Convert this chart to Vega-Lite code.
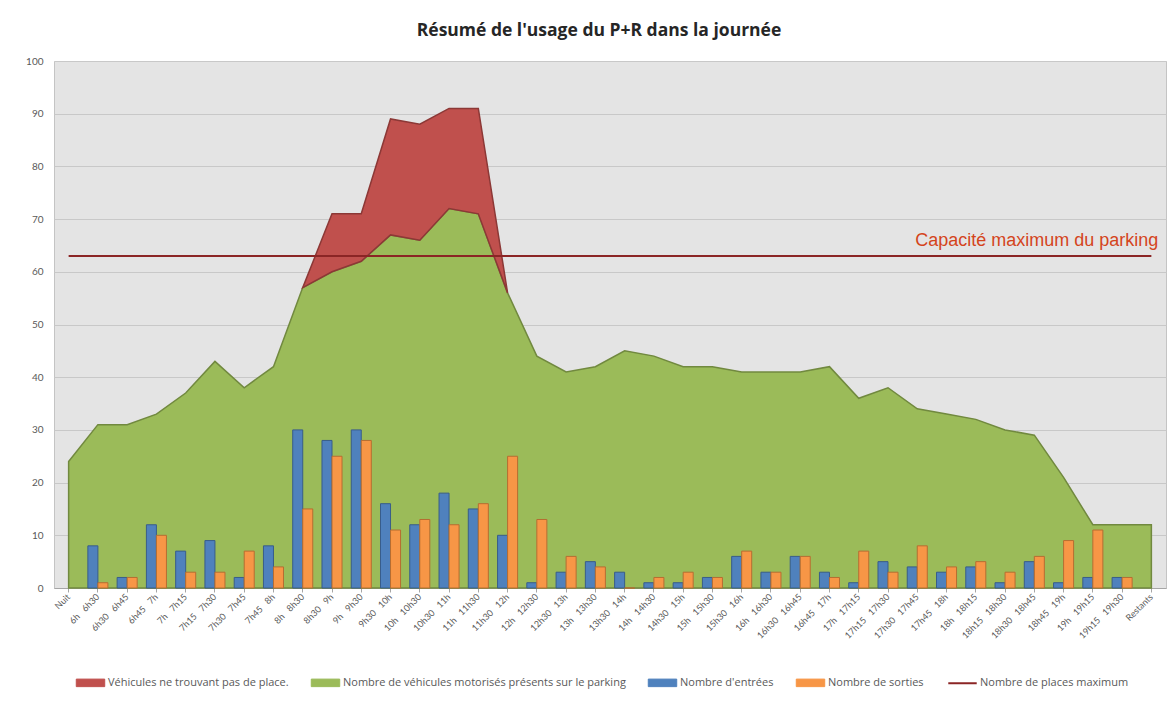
{
  "$schema": "https://vega.github.io/schema/vega-lite/v6.json",
  "width": 1112,
  "height": 527,
  "autosize": {"type": "none"},
  "padding": {"left": 54, "top": 61, "right": 9, "bottom": 117},
  "background": "white",
  "title": {"text": "Résumé de l'usage du P+R dans la journée", "font": "Open Sans", "fontSize": 17.5, "fontWeight": "bold", "color": "#262626", "offset": 17, "dx": -11},
  "config": {
    "view": {"fill": "#e4e4e4", "stroke": "#c4c4c4"},
    "axisY": {"labelFont": "Lato", "labelFontSize": 10, "labelColor": "#595959", "gridColor": "#c8c8c8", "domain": false, "ticks": false, "labelPadding": 11},
    "axisX": {"labelFont": "Lato", "labelFontSize": 9, "labelColor": "#595959", "labelAngle": -45, "labelAlign": "right", "labelBaseline": "middle", "grid": false, "domainColor": "#a6a6a6", "tickColor": "#a6a6a6", "tickSize": 4, "labelPadding": 3, "labelLimit": 0}
  },
  "datasets": {
    "verts": [
      {"cat": "Nuit", "serie": "Nombre de véhicules motorisés présents sur le parking", "value": 24},
      {"cat": "6h\u00a0\u00a0\u00a06h30", "serie": "Nombre de véhicules motorisés présents sur le parking", "value": 31},
      {"cat": "6h30\u00a0\u00a0\u00a06h45", "serie": "Nombre de véhicules motorisés présents sur le parking", "value": 31},
      {"cat": "6h45\u00a0\u00a0\u00a07h", "serie": "Nombre de véhicules motorisés présents sur le parking", "value": 33},
      {"cat": "7h\u00a0\u00a0\u00a07h15", "serie": "Nombre de véhicules motorisés présents sur le parking", "value": 37},
      {"cat": "7h15\u00a0\u00a0\u00a07h30", "serie": "Nombre de véhicules motorisés présents sur le parking", "value": 43},
      {"cat": "7h30\u00a0\u00a0\u00a07h45", "serie": "Nombre de véhicules motorisés présents sur le parking", "value": 38},
      {"cat": "7h45\u00a0\u00a0\u00a08h", "serie": "Nombre de véhicules motorisés présents sur le parking", "value": 42},
      {"cat": "8h\u00a0\u00a0\u00a08h30", "serie": "Nombre de véhicules motorisés présents sur le parking", "value": 57},
      {"cat": "8h30\u00a0\u00a0\u00a09h", "serie": "Nombre de véhicules motorisés présents sur le parking", "value": 60},
      {"cat": "9h\u00a0\u00a0\u00a09h30", "serie": "Nombre de véhicules motorisés présents sur le parking", "value": 62},
      {"cat": "9h30\u00a0\u00a0\u00a010h", "serie": "Nombre de véhicules motorisés présents sur le parking", "value": 67},
      {"cat": "10h\u00a0\u00a0\u00a010h30", "serie": "Nombre de véhicules motorisés présents sur le parking", "value": 66},
      {"cat": "10h30\u00a0\u00a0\u00a011h", "serie": "Nombre de véhicules motorisés présents sur le parking", "value": 72},
      {"cat": "11h\u00a0\u00a0\u00a011h30", "serie": "Nombre de véhicules motorisés présents sur le parking", "value": 71},
      {"cat": "11h30\u00a0\u00a0\u00a012h", "serie": "Nombre de véhicules motorisés présents sur le parking", "value": 56},
      {"cat": "12h\u00a0\u00a0\u00a012h30", "serie": "Nombre de véhicules motorisés présents sur le parking", "value": 44},
      {"cat": "12h30\u00a0\u00a0\u00a013h", "serie": "Nombre de véhicules motorisés présents sur le parking", "value": 41},
      {"cat": "13h\u00a0\u00a0\u00a013h30", "serie": "Nombre de véhicules motorisés présents sur le parking", "value": 42},
      {"cat": "13h30\u00a0\u00a0\u00a014h", "serie": "Nombre de véhicules motorisés présents sur le parking", "value": 45},
      {"cat": "14h\u00a0\u00a0\u00a014h30", "serie": "Nombre de véhicules motorisés présents sur le parking", "value": 44},
      {"cat": "14h30\u00a0\u00a0\u00a015h", "serie": "Nombre de véhicules motorisés présents sur le parking", "value": 42},
      {"cat": "15h\u00a0\u00a0\u00a015h30", "serie": "Nombre de véhicules motorisés présents sur le parking", "value": 42},
      {"cat": "15h30\u00a0\u00a0\u00a016h", "serie": "Nombre de véhicules motorisés présents sur le parking", "value": 41},
      {"cat": "16h\u00a0\u00a0\u00a016h30", "serie": "Nombre de véhicules motorisés présents sur le parking", "value": 41},
      {"cat": "16h30\u00a0\u00a0\u00a016h45", "serie": "Nombre de véhicules motorisés présents sur le parking", "value": 41},
      {"cat": "16h45\u00a0\u00a0\u00a017h", "serie": "Nombre de véhicules motorisés présents sur le parking", "value": 42},
      {"cat": "17h\u00a0\u00a0\u00a017h15", "serie": "Nombre de véhicules motorisés présents sur le parking", "value": 36},
      {"cat": "17h15\u00a0\u00a0\u00a017h30", "serie": "Nombre de véhicules motorisés présents sur le parking", "value": 38},
      {"cat": "17h30\u00a0\u00a0\u00a017h45", "serie": "Nombre de véhicules motorisés présents sur le parking", "value": 34},
      {"cat": "17h45\u00a0\u00a0\u00a018h", "serie": "Nombre de véhicules motorisés présents sur le parking", "value": 33},
      {"cat": "18h\u00a0\u00a0\u00a018h15", "serie": "Nombre de véhicules motorisés présents sur le parking", "value": 32},
      {"cat": "18h15\u00a0\u00a0\u00a018h30", "serie": "Nombre de véhicules motorisés présents sur le parking", "value": 30},
      {"cat": "18h30\u00a0\u00a0\u00a018h45", "serie": "Nombre de véhicules motorisés présents sur le parking", "value": 29},
      {"cat": "18h45\u00a0\u00a0\u00a019h", "serie": "Nombre de véhicules motorisés présents sur le parking", "value": 21},
      {"cat": "19h\u00a0\u00a0\u00a019h15", "serie": "Nombre de véhicules motorisés présents sur le parking", "value": 12},
      {"cat": "19h15\u00a0\u00a0\u00a019h30", "serie": "Nombre de véhicules motorisés présents sur le parking", "value": 12},
      {"cat": "Restants", "serie": "Nombre de véhicules motorisés présents sur le parking", "value": 12}
    ],
    "rouges": [
      {"cat": "8h\u00a0\u00a0\u00a08h30", "serie": "Véhicules ne trouvant pas de place.", "refus": 0},
      {"cat": "8h30\u00a0\u00a0\u00a09h", "serie": "Véhicules ne trouvant pas de place.", "refus": 11},
      {"cat": "9h\u00a0\u00a0\u00a09h30", "serie": "Véhicules ne trouvant pas de place.", "refus": 9},
      {"cat": "9h30\u00a0\u00a0\u00a010h", "serie": "Véhicules ne trouvant pas de place.", "refus": 22},
      {"cat": "10h\u00a0\u00a0\u00a010h30", "serie": "Véhicules ne trouvant pas de place.", "refus": 22},
      {"cat": "10h30\u00a0\u00a0\u00a011h", "serie": "Véhicules ne trouvant pas de place.", "refus": 19},
      {"cat": "11h\u00a0\u00a0\u00a011h30", "serie": "Véhicules ne trouvant pas de place.", "refus": 20},
      {"cat": "11h30\u00a0\u00a0\u00a012h", "serie": "Véhicules ne trouvant pas de place.", "refus": 0}
    ],
    "barres": [
      {"cat": "6h\u00a0\u00a0\u00a06h30", "serie": "Nombre d'entrées", "value": 8}, {"cat": "6h\u00a0\u00a0\u00a06h30", "serie": "Nombre de sorties", "value": 1},
      {"cat": "6h30\u00a0\u00a0\u00a06h45", "serie": "Nombre d'entrées", "value": 2}, {"cat": "6h30\u00a0\u00a0\u00a06h45", "serie": "Nombre de sorties", "value": 2},
      {"cat": "6h45\u00a0\u00a0\u00a07h", "serie": "Nombre d'entrées", "value": 12}, {"cat": "6h45\u00a0\u00a0\u00a07h", "serie": "Nombre de sorties", "value": 10},
      {"cat": "7h\u00a0\u00a0\u00a07h15", "serie": "Nombre d'entrées", "value": 7}, {"cat": "7h\u00a0\u00a0\u00a07h15", "serie": "Nombre de sorties", "value": 3},
      {"cat": "7h15\u00a0\u00a0\u00a07h30", "serie": "Nombre d'entrées", "value": 9}, {"cat": "7h15\u00a0\u00a0\u00a07h30", "serie": "Nombre de sorties", "value": 3},
      {"cat": "7h30\u00a0\u00a0\u00a07h45", "serie": "Nombre d'entrées", "value": 2}, {"cat": "7h30\u00a0\u00a0\u00a07h45", "serie": "Nombre de sorties", "value": 7},
      {"cat": "7h45\u00a0\u00a0\u00a08h", "serie": "Nombre d'entrées", "value": 8}, {"cat": "7h45\u00a0\u00a0\u00a08h", "serie": "Nombre de sorties", "value": 4},
      {"cat": "8h\u00a0\u00a0\u00a08h30", "serie": "Nombre d'entrées", "value": 30}, {"cat": "8h\u00a0\u00a0\u00a08h30", "serie": "Nombre de sorties", "value": 15},
      {"cat": "8h30\u00a0\u00a0\u00a09h", "serie": "Nombre d'entrées", "value": 28}, {"cat": "8h30\u00a0\u00a0\u00a09h", "serie": "Nombre de sorties", "value": 25},
      {"cat": "9h\u00a0\u00a0\u00a09h30", "serie": "Nombre d'entrées", "value": 30}, {"cat": "9h\u00a0\u00a0\u00a09h30", "serie": "Nombre de sorties", "value": 28},
      {"cat": "9h30\u00a0\u00a0\u00a010h", "serie": "Nombre d'entrées", "value": 16}, {"cat": "9h30\u00a0\u00a0\u00a010h", "serie": "Nombre de sorties", "value": 11},
      {"cat": "10h\u00a0\u00a0\u00a010h30", "serie": "Nombre d'entrées", "value": 12}, {"cat": "10h\u00a0\u00a0\u00a010h30", "serie": "Nombre de sorties", "value": 13},
      {"cat": "10h30\u00a0\u00a0\u00a011h", "serie": "Nombre d'entrées", "value": 18}, {"cat": "10h30\u00a0\u00a0\u00a011h", "serie": "Nombre de sorties", "value": 12},
      {"cat": "11h\u00a0\u00a0\u00a011h30", "serie": "Nombre d'entrées", "value": 15}, {"cat": "11h\u00a0\u00a0\u00a011h30", "serie": "Nombre de sorties", "value": 16},
      {"cat": "11h30\u00a0\u00a0\u00a012h", "serie": "Nombre d'entrées", "value": 10}, {"cat": "11h30\u00a0\u00a0\u00a012h", "serie": "Nombre de sorties", "value": 25},
      {"cat": "12h\u00a0\u00a0\u00a012h30", "serie": "Nombre d'entrées", "value": 1}, {"cat": "12h\u00a0\u00a0\u00a012h30", "serie": "Nombre de sorties", "value": 13},
      {"cat": "12h30\u00a0\u00a0\u00a013h", "serie": "Nombre d'entrées", "value": 3}, {"cat": "12h30\u00a0\u00a0\u00a013h", "serie": "Nombre de sorties", "value": 6},
      {"cat": "13h\u00a0\u00a0\u00a013h30", "serie": "Nombre d'entrées", "value": 5}, {"cat": "13h\u00a0\u00a0\u00a013h30", "serie": "Nombre de sorties", "value": 4},
      {"cat": "13h30\u00a0\u00a0\u00a014h", "serie": "Nombre d'entrées", "value": 3}, {"cat": "13h30\u00a0\u00a0\u00a014h", "serie": "Nombre de sorties", "value": 0},
      {"cat": "14h\u00a0\u00a0\u00a014h30", "serie": "Nombre d'entrées", "value": 1}, {"cat": "14h\u00a0\u00a0\u00a014h30", "serie": "Nombre de sorties", "value": 2},
      {"cat": "14h30\u00a0\u00a0\u00a015h", "serie": "Nombre d'entrées", "value": 1}, {"cat": "14h30\u00a0\u00a0\u00a015h", "serie": "Nombre de sorties", "value": 3},
      {"cat": "15h\u00a0\u00a0\u00a015h30", "serie": "Nombre d'entrées", "value": 2}, {"cat": "15h\u00a0\u00a0\u00a015h30", "serie": "Nombre de sorties", "value": 2},
      {"cat": "15h30\u00a0\u00a0\u00a016h", "serie": "Nombre d'entrées", "value": 6}, {"cat": "15h30\u00a0\u00a0\u00a016h", "serie": "Nombre de sorties", "value": 7},
      {"cat": "16h\u00a0\u00a0\u00a016h30", "serie": "Nombre d'entrées", "value": 3}, {"cat": "16h\u00a0\u00a0\u00a016h30", "serie": "Nombre de sorties", "value": 3},
      {"cat": "16h30\u00a0\u00a0\u00a016h45", "serie": "Nombre d'entrées", "value": 6}, {"cat": "16h30\u00a0\u00a0\u00a016h45", "serie": "Nombre de sorties", "value": 6},
      {"cat": "16h45\u00a0\u00a0\u00a017h", "serie": "Nombre d'entrées", "value": 3}, {"cat": "16h45\u00a0\u00a0\u00a017h", "serie": "Nombre de sorties", "value": 2},
      {"cat": "17h\u00a0\u00a0\u00a017h15", "serie": "Nombre d'entrées", "value": 1}, {"cat": "17h\u00a0\u00a0\u00a017h15", "serie": "Nombre de sorties", "value": 7},
      {"cat": "17h15\u00a0\u00a0\u00a017h30", "serie": "Nombre d'entrées", "value": 5}, {"cat": "17h15\u00a0\u00a0\u00a017h30", "serie": "Nombre de sorties", "value": 3},
      {"cat": "17h30\u00a0\u00a0\u00a017h45", "serie": "Nombre d'entrées", "value": 4}, {"cat": "17h30\u00a0\u00a0\u00a017h45", "serie": "Nombre de sorties", "value": 8},
      {"cat": "17h45\u00a0\u00a0\u00a018h", "serie": "Nombre d'entrées", "value": 3}, {"cat": "17h45\u00a0\u00a0\u00a018h", "serie": "Nombre de sorties", "value": 4},
      {"cat": "18h\u00a0\u00a0\u00a018h15", "serie": "Nombre d'entrées", "value": 4}, {"cat": "18h\u00a0\u00a0\u00a018h15", "serie": "Nombre de sorties", "value": 5},
      {"cat": "18h15\u00a0\u00a0\u00a018h30", "serie": "Nombre d'entrées", "value": 1}, {"cat": "18h15\u00a0\u00a0\u00a018h30", "serie": "Nombre de sorties", "value": 3},
      {"cat": "18h30\u00a0\u00a0\u00a018h45", "serie": "Nombre d'entrées", "value": 5}, {"cat": "18h30\u00a0\u00a0\u00a018h45", "serie": "Nombre de sorties", "value": 6},
      {"cat": "18h45\u00a0\u00a0\u00a019h", "serie": "Nombre d'entrées", "value": 1}, {"cat": "18h45\u00a0\u00a0\u00a019h", "serie": "Nombre de sorties", "value": 9},
      {"cat": "19h\u00a0\u00a0\u00a019h15", "serie": "Nombre d'entrées", "value": 2}, {"cat": "19h\u00a0\u00a0\u00a019h15", "serie": "Nombre de sorties", "value": 11},
      {"cat": "19h15\u00a0\u00a0\u00a019h30", "serie": "Nombre d'entrées", "value": 2}, {"cat": "19h15\u00a0\u00a0\u00a019h30", "serie": "Nombre de sorties", "value": 2}
    ],
    "capacite": [
      {"cat": "Nuit", "serie": "Nombre de places maximum", "max": 63},
      {"cat": "Restants", "serie": "Nombre de places maximum", "max": 63}
    ],
    "note": [
      {"cat": "Restants", "max": 63, "texte": "Capacité maximum du parking"}
    ]
  },
  "encoding": {
    "x": {
      "field": "cat", "type": "nominal", "title": null,
      "scale": {"paddingInner": 0, "paddingOuter": 0, "domain": ["Nuit", "6h\u00a0\u00a0\u00a06h30", "6h30\u00a0\u00a0\u00a06h45", "6h45\u00a0\u00a0\u00a07h", "7h\u00a0\u00a0\u00a07h15", "7h15\u00a0\u00a0\u00a07h30", "7h30\u00a0\u00a0\u00a07h45", "7h45\u00a0\u00a0\u00a08h", "8h\u00a0\u00a0\u00a08h30", "8h30\u00a0\u00a0\u00a09h", "9h\u00a0\u00a0\u00a09h30", "9h30\u00a0\u00a0\u00a010h", "10h\u00a0\u00a0\u00a010h30", "10h30\u00a0\u00a0\u00a011h", "11h\u00a0\u00a0\u00a011h30", "11h30\u00a0\u00a0\u00a012h", "12h\u00a0\u00a0\u00a012h30", "12h30\u00a0\u00a0\u00a013h", "13h\u00a0\u00a0\u00a013h30", "13h30\u00a0\u00a0\u00a014h", "14h\u00a0\u00a0\u00a014h30", "14h30\u00a0\u00a0\u00a015h", "15h\u00a0\u00a0\u00a015h30", "15h30\u00a0\u00a0\u00a016h", "16h\u00a0\u00a0\u00a016h30", "16h30\u00a0\u00a0\u00a016h45", "16h45\u00a0\u00a0\u00a017h", "17h\u00a0\u00a0\u00a017h15", "17h15\u00a0\u00a0\u00a017h30", "17h30\u00a0\u00a0\u00a017h45", "17h45\u00a0\u00a0\u00a018h", "18h\u00a0\u00a0\u00a018h15", "18h15\u00a0\u00a0\u00a018h30", "18h30\u00a0\u00a0\u00a018h45", "18h45\u00a0\u00a0\u00a019h", "19h\u00a0\u00a0\u00a019h15", "19h15\u00a0\u00a0\u00a019h30", "Restants"]}
    }
  },
  "layer": [
    {
      "data": {"name": "verts"},
      "mark": {"type": "area", "strokeWidth": 1.5, "stroke": "#71893f", "opacity": 1},
      "encoding": {
        "y": {"field": "value", "type": "quantitative", "title": null, "scale": {"domain": [0, 100]}, "axis": {"values": [0, 10, 20, 30, 40, 50, 60, 70, 80, 90, 100]}},
        "color": {
          "field": "serie", "type": "nominal",
          "scale": {"domain": ["Véhicules ne trouvant pas de place.", "Nombre de véhicules motorisés présents sur le parking", "Nombre d'entrées", "Nombre de sorties", "Nombre de places maximum"], "range": ["#c0504d", "#9bbb59", "#4f81bd", "#f79646", "#8b2525"]},
          "legend": {
            "title": null, "orient": "none", "direction": "horizontal", "legendX": 31, "legendY": 616,
            "labelFont": "Open Sans", "labelFontSize": 11, "labelColor": "#595959", "labelLimit": 0, "symbolSize": 280, "labelOffset": 12, "columnPadding": 20,
            "symbolType": {"expr": "datum.value === 'Nombre de places maximum' ? 'M-1.7,0H1.7' : 'M-1.7,-0.45H1.7V0.45H-1.7Z'"},
            "symbolStrokeColor": {"expr": "datum.value === 'Nombre de places maximum' ? '#8b2525' : (datum.value === 'Nombre d\\'entrées' ? '#385d8a' : (datum.value === 'Nombre de sorties' ? '#b66d31' : (datum.value === 'Véhicules ne trouvant pas de place.' ? '#8c3836' : '#71893f')))"},
            "symbolStrokeWidth": {"expr": "datum.value === 'Nombre de places maximum' ? 2 : 1"},
            "symbolOpacity": 1
          }
        }
      }
    },
    {
      "data": {"name": "rouges"},
      "transform": [
        {"lookup": "cat", "from": {"data": {"name": "verts"}, "key": "cat", "fields": ["value"]}},
        {"calculate": "datum.value + datum.refus", "as": "total"}
      ],
      "mark": {"type": "area", "strokeWidth": 1.5, "stroke": "#8c3836", "opacity": 1},
      "encoding": {
        "y": {"field": "total", "type": "quantitative", "title": null},
        "y2": {"field": "value"},
        "color": {"field": "serie", "type": "nominal"}
      }
    },
    {
      "data": {"name": "barres"},
      "mark": {"type": "bar", "strokeWidth": 1},
      "encoding": {
        "y": {"field": "value", "type": "quantitative", "title": null},
        "xOffset": {"field": "serie", "type": "nominal", "scale": {"domain": ["Nombre d'entrées", "Nombre de sorties"], "paddingInner": 0, "paddingOuter": 0.46}},
        "color": {"field": "serie", "type": "nominal"},
        "stroke": {"field": "serie", "type": "nominal", "legend": null, "scale": {"domain": ["Nombre d'entrées", "Nombre de sorties"], "range": ["#385d8a", "#b66d31"]}}
      }
    },
    {
      "data": {"name": "capacite"},
      "mark": {"type": "line", "strokeWidth": 2},
      "encoding": {
        "y": {"field": "max", "type": "quantitative", "title": null},
        "color": {"field": "serie", "type": "nominal"}
      }
    },
    {
      "data": {"name": "note"},
      "mark": {"type": "text", "align": "right", "baseline": "alphabetic", "dx": 7, "dy": -10, "font": "Liberation Sans", "fontSize": 18, "color": "#d4441c"},
      "encoding": {
        "y": {"field": "max", "type": "quantitative", "title": null},
        "text": {"field": "texte"}
      }
    }
  ]
}
